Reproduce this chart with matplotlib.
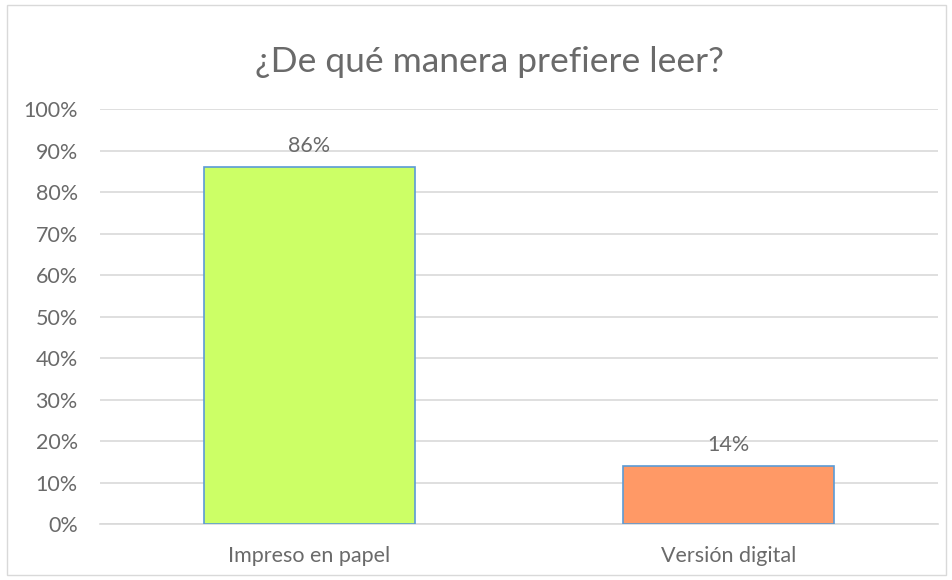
import matplotlib.pyplot as plt
from matplotlib.patches import Rectangle
from matplotlib.ticker import PercentFormatter

categories = ["Impreso en papel", "Versión digital"]
values = [86, 14]
bar_colors = ["#CCFF66", "#FF9966"]
title = "¿De qué manera prefiere leer?"

plt.rcParams['font.family'] = ['Lato', 'DejaVu Sans']
text_color = "#6A6A6A"

fig = plt.figure(figsize=(9.53, 5.8), dpi=100)
ax = fig.add_axes([0.1049, 0.0966, 0.8793, 0.715])

x = range(len(categories))
bars = ax.bar(x, values, width=0.505, color=bar_colors, edgecolor="#5B9BD5", linewidth=1.2, zorder=3)

for b, v in zip(bars, values):
    ax.annotate(f"{v}%", (b.get_x() + b.get_width() / 2, v), xytext=(0, 8),
                textcoords="offset points", ha="center", va="bottom",
                fontsize=15.5, color=text_color)

ax.set_xlim(-0.5, 1.5)
ax.set_ylim(0, 100)
ax.set_yticks(range(0, 101, 10))
ax.yaxis.set_major_formatter(PercentFormatter(decimals=0))
ax.set_xticks(list(x))
ax.set_xticklabels(categories)
ax.grid(axis="y", color="#D9D9D9", linewidth=1.2, zorder=0)
ax.tick_params(axis="y", length=0, pad=16, labelsize=15.5, labelcolor=text_color)
ax.tick_params(axis="x", length=0, pad=16, labelsize=15.5, labelcolor=text_color)
for s in ["top", "right", "left"]:
    ax.spines[s].set_visible(False)
ax.spines["bottom"].set_color("#D9D9D9")
ax.spines["bottom"].set_linewidth(1.2)

fig.text(0.514, 0.893, title, ha="center", va="center", fontsize=25.5, color=text_color)

fig.patches.append(Rectangle((0.007, 0.008), 0.986, 0.984, transform=fig.transFigure,
                             fill=False, edgecolor="#D9D9D9", linewidth=1))

fig.savefig("out.png", dpi=100)
